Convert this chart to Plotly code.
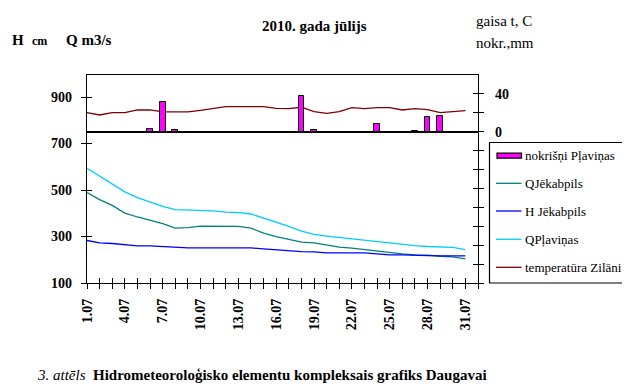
import plotly.graph_objects as go

# ---------------- data ----------------
days = list(range(1, 32))
tick_days = list(range(1, 33))
label_days = [1, 4, 7, 10, 13, 16, 19, 22, 25, 28, 31]
tick_labels = [f"{d}.07" if d in label_days else "" for d in tick_days]

q_jekabpils = [489, 459, 434, 401, 384, 370, 355, 336, 338, 345, 345, 345, 344, 336, 315,
               300, 289, 276, 273, 264, 254, 250, 244, 235, 230, 225, 221, 220, 215, 212, 204]
h_jekabpils = [283, 273, 270, 264, 260, 260, 257, 251, 251, 251, 251, 254, 251, 251, 247,
               243, 238, 235, 234, 230, 230, 230, 230, 225, 221, 221, 218, 218, 217, 217, 217]
q_plavinas = [594, 560, 528, 492, 467, 449, 430, 416, 414, 413, 410, 405, 403, 397, 380,
              362, 344, 323, 309, 302, 296, 289, 284, 279, 271, 266, 261, 257, 254, 253, 244]
temp_zilani = [20.2, 17.7, 20.2, 20.2, 23.0, 23.0, 20.9, 20.9, 20.9, 22.6, 24.4, 26.6, 26.6, 26.6, 26.6,
               24.8, 24.4, 25.9, 21.3, 19.5, 21.3, 25.5, 24.4, 25.5, 25.5, 23.0, 24.4, 23.4, 20.2, 21.3, 22.3]
precip_plavinas = [0, 0, 0, 0, 0, 3.2, 31.9, 2.1, 0, 0, 0, 0, 0, 0, 0,
                   0, 0, 38.3, 2.1, 0, 0, 0, 0, 7.8, 0, 0, 1.0, 16.0, 17.0, 0, 0]

left_ticks = [100, 300, 500, 700, 900]
right_ticks = list(range(-160, 41, 20))
right_labels = [str(v) if v in (0, 40) else "" for v in right_ticks]

legend_names = ["nokrišņi Pļaviņas", "QJēkabpils", "H Jēkabpils", "QPļaviņas", "temperatūra Zilāni"]

# ---------------- style ----------------
FONT = "Liberation Serif, Times New Roman, serif"
OFF = 8                      # page body margin of the html page
W, H = 630 - OFF, 384 - OFF
L, R, T, B = 87, 478, 75, 283  # plot area in window pixels
C_TEAL = "#008080"
C_BLUE = "#0000FF"
C_CYAN = "#00CCFF"
C_TEMP = "#800000"
C_BAR = "#FF00FF"


def px(x):
    return (x - L) / (R - L)


def py(y):
    return (B - y) / (B - T)


fig = go.Figure()

fig.add_trace(go.Scatter(x=days, y=q_jekabpils, mode="lines", line=dict(color=C_TEAL, width=1.3),
                         xaxis="x", yaxis="y", showlegend=False))
fig.add_trace(go.Scatter(x=days, y=h_jekabpils, mode="lines", line=dict(color=C_BLUE, width=1.3),
                         xaxis="x", yaxis="y", showlegend=False))
fig.add_trace(go.Scatter(x=days, y=q_plavinas, mode="lines", line=dict(color=C_CYAN, width=1.3),
                         xaxis="x", yaxis="y", showlegend=False))
fig.add_trace(go.Scatter(x=days, y=temp_zilani, mode="lines", line=dict(color=C_TEMP, width=1.3),
                         xaxis="x", yaxis="y2", showlegend=False))
fig.add_trace(go.Bar(x=days, y=precip_plavinas, width=0.45, marker=dict(color=C_BAR, line=dict(color="black", width=1)),
                     xaxis="x", yaxis="y5", showlegend=False))
# helper traces so that the tick-only overlay axes are drawn
fig.add_trace(go.Scatter(x=days, y=[None] * len(days), mode="lines", xaxis="x2", yaxis="y3",
                         showlegend=False, hoverinfo="skip"))
fig.add_trace(go.Scatter(x=days, y=[None] * len(days), mode="lines", xaxis="x", yaxis="y4",
                         showlegend=False, hoverinfo="skip"))

XR = [1, 32]
YR = [100, 995]
Y2R = [-160, 60]
TICKFONT = dict(family=FONT, size=14, color="black", weight="bold")

fig.update_layout(
    width=W, height=H,
    margin=dict(l=L - OFF, r=630 - R, t=T - OFF, b=384 - B),
    paper_bgcolor="white", plot_bgcolor="white",
    font=dict(family=FONT, color="black"),
    bargap=0,
    xaxis=dict(range=XR, tickmode="array", tickvals=tick_days, ticktext=tick_labels, tickangle=-90,
               ticks="outside", ticklen=5, tickcolor="black", tickwidth=1.3,
               showline=True, linecolor="black", linewidth=1.3, mirror=True,
               showgrid=False, zeroline=False, tickfont=TICKFONT, ticklabelstandoff=4),
    xaxis2=dict(range=XR, overlaying="x", anchor="y", side="bottom", tickmode="array", tickvals=tick_days,
                ticks="inside", ticklen=5, tickcolor="black", tickwidth=1.3, showticklabels=False,
                showline=False, showgrid=False, zeroline=False),
    yaxis=dict(range=YR, tickmode="array", tickvals=left_ticks, ticks="outside", ticklen=5,
               tickcolor="black", tickwidth=1.3, showline=True, linecolor="black", linewidth=1.3,
               showgrid=False, zeroline=False, tickfont=TICKFONT, ticklabelstandoff=6),
    yaxis2=dict(range=Y2R, overlaying="y", side="right", anchor="x", tickmode="array", tickvals=right_ticks,
                ticktext=right_labels, ticks="outside", ticklen=5, tickcolor="black", tickwidth=1.3,
                showline=True, linecolor="black", linewidth=1.3, showgrid=False,
                zeroline=True, zerolinecolor="black", zerolinewidth=1.5,
                tickfont=TICKFONT, ticklabelstandoff=8),
    yaxis3=dict(range=YR, overlaying="y", side="left", anchor="x2", tickmode="array", tickvals=left_ticks,
                ticks="inside", ticklen=5, tickcolor="black", tickwidth=1.3, showticklabels=False,
                showline=False, showgrid=False, zeroline=False),
    yaxis4=dict(range=Y2R, overlaying="y", side="right", anchor="x", tickmode="array", tickvals=right_ticks,
                ticks="inside", ticklen=5, tickcolor="black", tickwidth=1.3, showticklabels=False,
                showline=False, showgrid=False, zeroline=False),
    yaxis5=dict(range=Y2R, overlaying="y", side="right", anchor="x", visible=False),
)

annotations = []
shapes = []


def text(x, y, s, size=14, bold=False, italic=False, xanchor="left"):
    if bold:
        s = f"<b>{s}</b>"
    if italic:
        s = f"<i>{s}</i>"
    annotations.append(dict(x=px(x), y=py(y), xref="paper", yref="paper", text=s, showarrow=False,
                            xanchor=xanchor, yanchor="middle",
                            font=dict(family=FONT, size=size, color="black")))


# header texts
text(314, 26, "2010. gada jūlijs", size=15, bold=True, xanchor="center")
text(10, 40, "H", size=15, bold=True)
text(30, 41, "cm", size=12, bold=True)
text(64, 40, "Q m3/s", size=15, bold=True)
text(474, 21, "gaisa t, C", size=15)
text(474, 43, "nokr.,mm", size=15)
# caption
annotations.append(dict(x=px(35), y=py(375), xref="paper", yref="paper",
                        text="<i>3. attēls</i>  <b>Hidrometeoroloģisko elementu kompleksais grafiks Daugavai</b>",
                        showarrow=False, xanchor="left", yanchor="middle",
                        font=dict(family=FONT, size=15, color="black")))

# legend box
shapes.append(dict(type="rect", xref="paper", yref="paper", x0=px(489.5), x1=px(628), y0=py(142.5), y1=py(283),
                   line=dict(color="black", width=1.2), fillcolor="white", layer="above"))
legend_y = [155.7, 183.3, 211, 239.3, 267.3]
legend_colors = [C_BAR, C_TEAL, C_BLUE, C_CYAN, C_TEMP]
for i, (name, ly, col) in enumerate(zip(legend_names, legend_y, legend_colors)):
    if i == 0:
        shapes.append(dict(type="rect", xref="paper", yref="paper", x0=px(497), x1=px(521.5),
                           y0=py(ly + 2.5), y1=py(ly - 2.5), fillcolor=col,
                           line=dict(color="black", width=1.2), layer="above"))
    else:
        shapes.append(dict(type="line", xref="paper", yref="paper", x0=px(496), x1=px(521.5),
                           y0=py(ly), y1=py(ly), line=dict(color=col, width=1.3), layer="above"))
    text(522.5, ly, name, size=13)

fig.update_layout(annotations=annotations, shapes=shapes)
fig.write_html("out.html")
